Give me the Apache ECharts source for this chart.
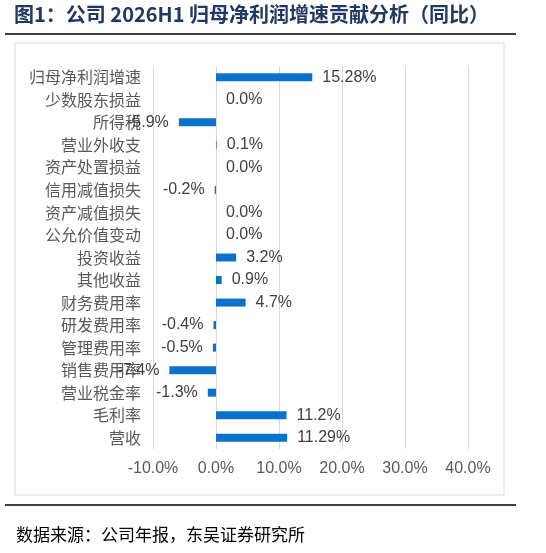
<!DOCTYPE html><html><head><meta charset="utf-8">
<script src="https://cdn.jsdelivr.net/npm/echarts@6/dist/echarts.min.js"></script>
<style>html,body{margin:0;padding:0;background:#fff}#c{width:546px;height:553px}</style></head><body><div id="c"></div>
<script>
const categories=['归母净利润增速','少数股东损益','所得税','营业外收支','资产处置损益','信用减值损失','资产减值损失','公允价值变动','投资收益','其他收益','财务费用率','研发费用率','管理费用率','销售费用率','营业税金率','毛利率','营收'];
const values=[15.28,0.0,-5.9,0.1,0.0,-0.2,0.0,0.0,3.2,0.9,4.7,-0.4,-0.5,-7.4,-1.3,11.2,11.29];
const labels=['15.28%','0.0%','-5.9%','0.1%','0.0%','-0.2%','0.0%','0.0%','3.2%','0.9%','4.7%','-0.4%','-0.5%','-7.4%','-1.3%','11.2%','11.29%'];
const xTicks=[-10,0,10,20,30,40];
const chart=echarts.init(document.getElementById('c'));
const cjk='"Noto Sans CJK SC", sans-serif';
chart.setOption({
  animation:false,
  graphic:[
    {type:'text',left:14,top:4,style:{text:'图1：公司 2026H1 归母净利润增速贡献分析（同比）',font:'bold 20px "Noto Sans CJK SC"',fill:'#1f3864'}},
    {type:'line',shape:{x1:5,y1:34,x2:516,y2:34},style:{stroke:'#000',lineWidth:1.5}},
    {type:'rect',shape:{x:15,y:43,width:489,height:452},style:{fill:'none',stroke:'#d9d9d9',lineWidth:1}},
    {type:'line',shape:{x1:5,y1:505,x2:516,y2:505},style:{stroke:'#000',lineWidth:1.5}},
    {type:'text',left:16,top:526,style:{text:'数据来源：公司年报，东吴证券研究所',font:'17px "Noto Sans CJK SC"',fill:'#000'}}
  ],
  grid:{left:153,right:78,top:66,bottom:104,containLabel:false},
  xAxis:{type:'value',min:-10,max:40,interval:10,
    axisLabel:{formatter:v=>v.toFixed(1)+'%',color:'#595959',fontSize:16,fontFamily:'Liberation Sans, Arial',margin:12},
    axisLine:{show:false},axisTick:{show:false},
    splitLine:{lineStyle:{color:'#d9d9d9'}}},
  yAxis:{type:'category',data:categories,inverse:true,
    axisLine:{show:false,onZero:false},axisTick:{show:false},
    axisLabel:{color:'#595959',fontSize:16,fontFamily:cjk,margin:12}},
  series:[{type:'bar',barWidth:8,
    data:values.map((v,i)=>({value:v,label:{position:v<0?'left':'right',formatter:labels[i]}})),
    itemStyle:{color:'#0a72cc'},
    label:{show:true,color:'#404040',fontSize:16,fontFamily:'Liberation Sans, Arial',distance:10}
  }]
});
</script></body></html>
